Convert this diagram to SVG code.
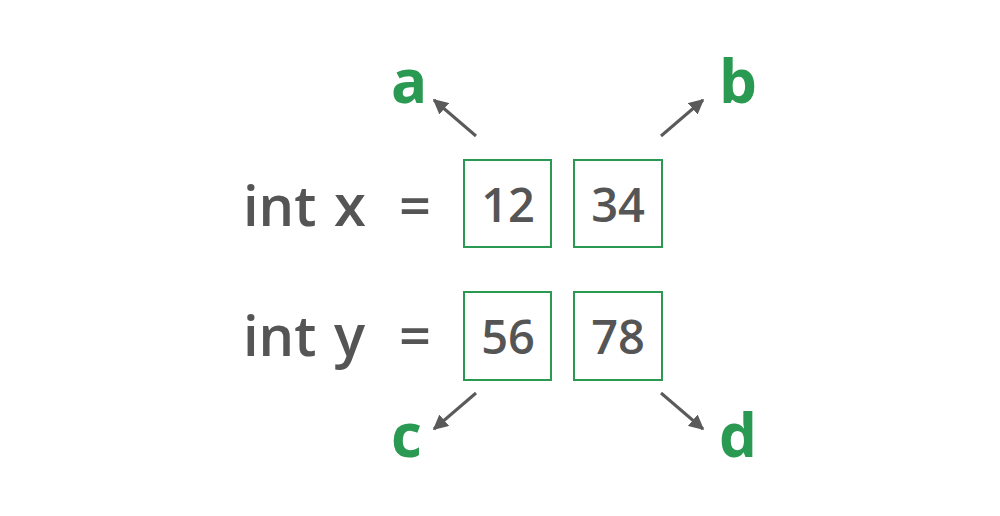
<svg xmlns="http://www.w3.org/2000/svg" width="1000" height="516" viewBox="0 0 1000 516">
<style>
.code{font-family:"Open Sans","Noto Sans",sans-serif;font-size:56px;font-weight:600;fill:#555555}
.num{font-family:"Open Sans","Noto Sans",sans-serif;font-size:47px;font-weight:600;fill:#555555;text-anchor:middle}
.lbl{font-family:"Open Sans","Noto Sans",sans-serif;font-size:60px;font-weight:700;fill:#2a9a52}
.box{fill:#ffffff;stroke:#2a9a52;stroke-width:2}
.conn{stroke:#5a5a5a;stroke-width:3;fill:none;marker-end:url(#ah)}
</style>
<defs>
<marker id="ah" viewBox="0 0 10 10" refX="9" refY="5" markerWidth="5" markerHeight="5" orient="auto" markerUnits="strokeWidth">
<path d="M0,0 L10,5 L0,10 z" fill="#5a5a5a"/>
</marker>
</defs>
<rect width="1000" height="516" fill="#ffffff"/>
<g id="line-x">
<text class="code" x="243" y="226">int <tspan x="334" font-size="58">x</tspan></text>
<text class="code" x="399" y="226">=</text>
</g>
<g id="line-y">
<text class="code" x="243" y="356">int <tspan x="334" font-size="58">y</tspan></text>
<text class="code" x="399" y="356">=</text>
</g>
<g id="box-12"><rect class="box" x="464" y="160" width="87" height="87"/><text class="num" x="508" y="222">12</text></g>
<g id="box-34"><rect class="box" x="574" y="160" width="88" height="87"/><text class="num" x="618" y="222">34</text></g>
<g id="box-56"><rect class="box" x="464" y="292" width="87" height="88"/><text class="num" x="508" y="354">56</text></g>
<g id="box-78"><rect class="box" x="574" y="292" width="88" height="88"/><text class="num" x="618" y="354">78</text></g>
<g id="label-a"><text class="lbl" x="391" y="103">a</text></g>
<g id="label-b"><text class="lbl" x="719" y="103">b</text></g>
<g id="label-c"><text class="lbl" x="391" y="457">c</text></g>
<g id="label-d"><text class="lbl" x="719" y="457">d</text></g>
<g id="connectors">
<line class="conn" x1="476" y1="136" x2="434" y2="100"/>
<line class="conn" x1="661" y1="136" x2="703" y2="100"/>
<line class="conn" x1="476" y1="393" x2="434" y2="429"/>
<line class="conn" x1="661" y1="393" x2="703" y2="429"/>
</g>
</svg>
